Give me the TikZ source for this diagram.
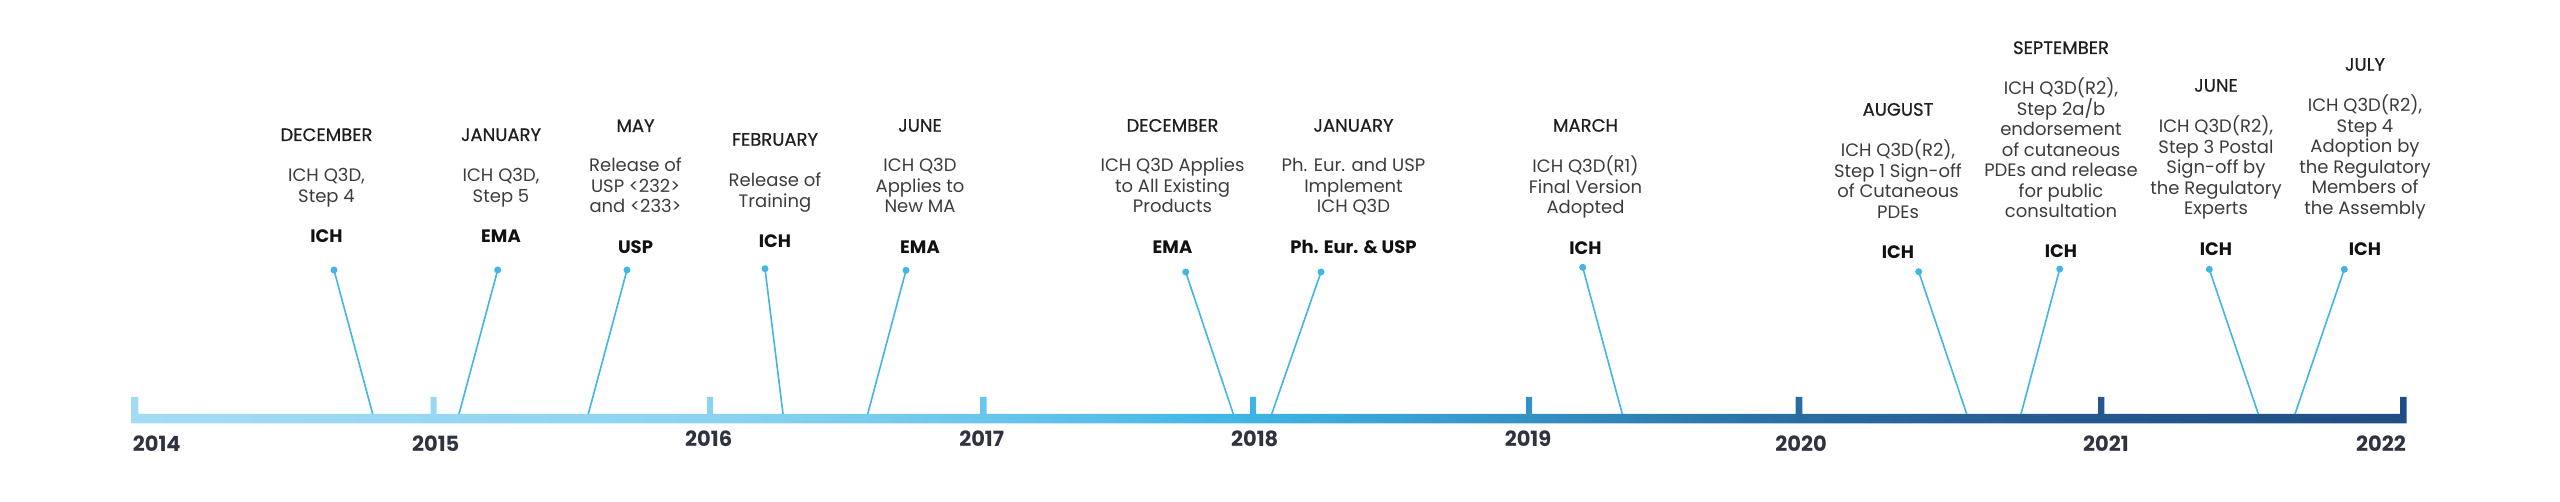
\documentclass[tikz,border=0pt]{standalone}
\usepackage{fontspec}
\setmainfont{Poppins}
\newfontfamily\monthfont[FakeBold=0.6]{Poppins}
\definecolor{monthcol}{RGB}{30,30,30}
\definecolor{bodycol}{RGB}{60,60,60}
\definecolor{agcol}{RGB}{17,17,17}
\definecolor{yearcol}{RGB}{47,50,65}
\definecolor{linecol}{RGB}{65,182,230}
\definecolor{c0}{RGB}{162,220,243}
\definecolor{c1}{RGB}{140,211,240}
\definecolor{c2}{RGB}{105,198,236}
\definecolor{c3}{RGB}{62,180,228}
\definecolor{c4}{RGB}{52,145,196}
\definecolor{c5}{RGB}{41,108,160}
\definecolor{c6}{RGB}{36,88,142}
\definecolor{c7}{RGB}{31,78,133}
\pgfdeclarehorizontalshading{barshade}{100bp}{color(0bp)=(c0); color(25bp)=(c0); color(37.7bp)=(c1); color(43.7bp)=(c2); color(49.65bp)=(c3); color(55.7bp)=(c4); color(61.65bp)=(c5); color(68.3bp)=(c6); color(75bp)=(c7); color(100bp)=(c7)}
\tikzset{
  x=1pt, y=-1pt,
  month/.style={anchor=base, inner sep=0pt, text=monthcol, font=\monthfont\fontsize{18}{20}\selectfont},
  body/.style={anchor=base, inner sep=0pt, align=center, text=bodycol, font=\fontsize{18}{20.5}\selectfont},
  agency/.style={anchor=base, inner sep=0pt, text=agcol, font=\bfseries\fontsize{18}{20}\selectfont},
  year/.style={anchor=base, inner sep=0pt, text=yearcol, font=\bfseries\fontsize{21}{24}\selectfont},
  dotn/.style={circle, fill=linecol, inner sep=0pt, minimum size=7pt},
  conn/.style={draw=linecol, line width=1.6pt},
}
\begin{document}
\begin{tikzpicture}
\useasboundingbox (0,0) rectangle (2560,502);
% bar with ticks
\shade[shading=barshade]
  (131.7,414) rectangle (2406.7,423.5)
  (131.7,397) rectangle (138.3,414.5)
  (430.7,397) rectangle (436.7,414.5)
  (707,397) rectangle (713,414.5)
  (980,397) rectangle (986.7,414.5)
  (1250,397) rectangle (1256,414.5)
  (1526,397) rectangle (1532,414.5)
  (1795.7,397) rectangle (1802.3,414.5)
  (2098,397) rectangle (2104.3,414.5)
  (2400,397) rectangle (2406.7,414.5);
% years
\node[year, anchor=base west] (y14) at (132.7,451) {2014};
\node[year] (y15) at (435.7,451) {2015};
\node[year] (y16) at (708.7,446.5) {2016};
\node[year] (y17) at (981.7,446.5) {2017};
\node[year] (y18) at (1254.7,446.5) {2018};
\node[year] (y19) at (1528,446.5) {2019};
\node[year] (y20) at (1801,451.5) {2020};
\node[year] (y21) at (2106,452) {2021};
\node[year, anchor=base east] (y22) at (2406,452) {2022};
% events (body nodes are placed by the baseline of their last line)
% 1
\node[month] (m1) at (326.5,141) {DECEMBER};
\node[body] (b1) at (326.5,202.5) {ICH Q3D,\\Step 4};
\node[agency] (a1) at (326.5,243) {ICH};
\node[dotn] (d1) at (334,270) {};
\coordinate (p1) at (372.7,414);
\draw[conn] (d1.center) -- (p1);
% 2
\node[month] (m2) at (501,141) {JANUARY};
\node[body] (b2) at (501,202.5) {ICH Q3D,\\Step 5};
\node[agency] (a2) at (501,243) {EMA};
\node[dotn] (d2) at (497.7,270) {};
\coordinate (p2) at (459,414);
\draw[conn] (d2.center) -- (p2);
% 3
\node[month] (m3) at (635.5,132) {MAY};
\node[body] (b3) at (635.5,213) {Release of\\USP <232>\\and <233>};
\node[agency] (a3) at (635.5,254) {USP};
\node[dotn] (d3) at (627,270) {};
\coordinate (p3) at (588.3,414);
\draw[conn] (d3.center) -- (p3);
% 4
\node[month] (m4) at (775,145.7) {FEBRUARY};
\node[body] (b4) at (775,207.2) {Release of\\Training};
\node[agency] (a4) at (775,247.7) {ICH};
\node[dotn] (d4) at (765,268.7) {};
\coordinate (p4) at (783,414);
\draw[conn] (d4.center) -- (p4);
% 5
\node[month] (m5) at (920,131.7) {JUNE};
\node[body] (b5) at (920,212.7) {ICH Q3D\\Applies to\\New MA};
\node[agency] (a5) at (920,254) {EMA};
\node[dotn] (d5) at (906,270.3) {};
\coordinate (p5) at (867.7,414);
\draw[conn] (d5.center) -- (p5);
% 6
\node[month] (m6) at (1172.5,131.7) {DECEMBER};
\node[body] (b6) at (1172.5,213) {ICH Q3D Applies\\to All Existing\\Products};
\node[agency] (a6) at (1172.5,254) {EMA};
\node[dotn] (d6) at (1185.7,272) {};
\coordinate (p6) at (1233.3,414);
\draw[conn] (d6.center) -- (p6);
% 7
\node[month] (m7) at (1353.5,131.7) {JANUARY};
\node[body] (b7) at (1353.5,213) {Ph. Eur. and USP\\Implement\\ICH Q3D};
\node[agency] (a7) at (1353.5,254) {Ph. Eur. \& USP};
\node[dotn] (d7) at (1321,272) {};
\coordinate (p7) at (1271.7,414);
\draw[conn] (d7.center) -- (p7);
% 8
\node[month] (m8) at (1585.5,131.7) {MARCH};
\node[body] (b8) at (1585.5,213.7) {ICH Q3D(R1)\\Final Version\\Adopted};
\node[agency] (a8) at (1585.5,255) {ICH};
\node[dotn] (d8) at (1582.7,267.3) {};
\coordinate (p8) at (1622.3,414);
\draw[conn] (d8.center) -- (p8);
% 9
\node[month] (m9) at (1898,115.7) {AUGUST};
\node[body] (b9) at (1898,218.2) {ICH Q3D(R2),\\Step 1 Sign-off\\of Cutaneous\\PDEs};
\node[agency] (a9) at (1898,258.3) {ICH};
\node[dotn] (d9) at (1918.7,271.7) {};
\coordinate (p9) at (1966.7,414);
\draw[conn] (d9.center) -- (p9);
% 10
\node[month] (m10) at (2061,54) {SEPTEMBER};
\node[body] (b10) at (2061,218) {ICH Q3D(R2),\\Step 2a/b\\endorsement\\of cutaneous\\PDEs and release\\for public\\consultation};
\node[agency] (a10) at (2061,258) {ICH};
\node[dotn] (d10) at (2059.7,269) {};
\coordinate (p10) at (2021,414);
\draw[conn] (d10.center) -- (p10);
% 11
\node[month] (m11) at (2216,91.7) {JUNE};
\node[body] (b11) at (2216,214.7) {ICH Q3D(R2),\\Step 3 Postal\\Sign-off by\\the Regulatory\\Experts};
\node[agency] (a11) at (2216,255.7) {ICH};
\node[dotn] (d11) at (2209.3,269.3) {};
\coordinate (p11) at (2258.3,414);
\draw[conn] (d11.center) -- (p11);
% 12
\node[month] (m12) at (2365,70.7) {JULY};
\node[body] (b12) at (2365,214.2) {ICH Q3D(R2),\\Step 4\\Adoption by\\the Regulatory\\Members of\\the Assembly};
\node[agency] (a12) at (2365,255.7) {ICH};
\node[dotn] (d12) at (2344.3,269.3) {};
\coordinate (p12) at (2295,414);
\draw[conn] (d12.center) -- (p12);
\end{tikzpicture}
\end{document}
